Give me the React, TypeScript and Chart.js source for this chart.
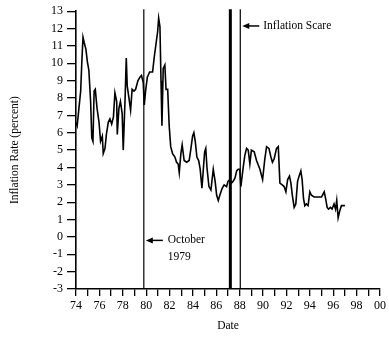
import React, { useEffect, useRef } from "react";
import { Chart, registerables } from "chart.js";

Chart.register(...registerables);

// Inflation rate (percent) by date (decimal year, 74 = 1974)
const dates: number[] = [
  74.0, 74.1, 74.25, 74.4, 74.5, 74.6, 74.7, 74.85, 74.97, 75.1, 75.25, 75.35, 75.45, 75.55, 75.65, 75.8, 75.97,
  76.1, 76.25, 76.33, 76.48, 76.6, 76.76, 76.9, 77.05, 77.2, 77.33, 77.48, 77.53, 77.67, 77.8, 77.95,
  78.04, 78.2, 78.3, 78.38, 78.53, 78.67, 78.8, 78.96, 79.1, 79.3, 79.47, 79.6, 79.75, 79.84, 79.95,
  80.1, 80.3, 80.55, 80.7, 80.84, 80.98, 81.07, 81.18, 81.27, 81.35, 81.46, 81.6, 81.7, 81.84, 81.97,
  82.1, 82.26, 82.46, 82.6, 82.74, 82.83, 82.97, 83.08, 83.25, 83.46, 83.68, 83.83, 83.97,
  84.08, 84.2, 84.34, 84.49, 84.62, 84.77, 84.88, 85.0, 85.1, 85.2, 85.37, 85.54, 85.74, 85.9,
  86.03, 86.17, 86.3, 86.5, 86.67, 86.88, 87.0, 87.16, 87.3, 87.44, 87.6, 87.74, 87.87, 88.0,
  88.1, 88.3, 88.44, 88.59, 88.73, 88.87, 89.0, 89.24, 89.44, 89.73, 89.96,
  90.15, 90.3, 90.5, 90.67, 90.8, 90.95, 91.15, 91.3, 91.44, 91.64, 91.8, 91.95,
  92.1, 92.26, 92.38, 92.52, 92.66, 92.8, 92.95, 93.08, 93.23, 93.34, 93.46, 93.57, 93.7, 93.85,
  94.0, 94.14, 94.37, 94.66, 95.0, 95.23, 95.35, 95.48, 95.6, 95.76, 95.9,
  96.07, 96.2, 96.3, 96.42, 96.56, 96.7, 96.85, 97.0,
];

const inflation: number[] = [
  6.6, 6.4, 7.4, 8.4, 10.1, 11.5, 11.2, 10.8, 10.1, 9.6, 7.8, 5.7, 5.5, 8.4, 8.5, 7.4, 6.6,
  5.5, 5.8, 4.8, 5.1, 5.9, 6.6, 6.8, 6.5, 6.9, 8.3, 7.8, 5.9, 7.4, 7.8, 7.1,
  5.0, 8.0, 10.3, 8.7, 8.0, 7.3, 8.5, 8.4, 8.5, 9.0, 9.2, 9.3, 8.9, 7.6, 8.4,
  9.2, 9.5, 9.5, 10.4, 11.1, 11.8, 12.6, 12.1, 9.0, 6.4, 9.7, 9.9, 8.5, 8.5, 6.4,
  5.2, 4.8, 4.6, 4.3, 4.2, 3.7, 4.8, 5.3, 4.4, 4.3, 4.4, 5.1, 5.8,
  6.0, 5.5, 4.6, 4.4, 3.9, 2.8, 3.8, 4.9, 5.1, 4.0, 2.9, 2.7, 3.9, 3.2,
  2.4, 2.1, 2.4, 2.8, 3.0, 2.9, 3.2, 3.3, 3.1, 3.2, 3.4, 3.8, 3.9, 3.9,
  2.9, 4.0, 4.7, 5.1, 5.0, 4.2, 5.0, 4.9, 4.4, 3.9, 3.3,
  4.5, 5.2, 5.1, 4.6, 4.3, 4.5, 5.1, 5.2, 3.1, 3.0, 2.9, 2.6,
  3.3, 3.5, 3.1, 2.3, 1.7, 1.9, 3.2, 3.5, 3.8, 3.3, 2.2, 1.8, 1.9, 1.8,
  2.6, 2.4, 2.3, 2.3, 2.3, 2.6, 2.2, 1.7, 1.6, 1.7, 1.6,
  1.9, 1.6, 2.1, 1.1, 1.5, 1.8, 1.8, 1.8,
];

// Event markers (decimal year) and the line width used for each
const eventDates: number[] = [79.8, 87.2, 88.05];
const eventWidths: number[] = [1.2, 3, 1.2];

// Annotation text
const octoberLabel: string[] = ["October", "1979"];
const scareLabel = "Inflation Scare";

// Axis ranges and titles
const yMin = -3;
const yMax = 13;
const xMin = 74;
const xMax = 100;
const yTitle = "Inflation Rate (percent)";
const xTitle = "Date";

const SERIF = "'Liberation Serif', 'Times New Roman', serif";

function drawArrowLeft(ctx: CanvasRenderingContext2D, tipX: number, y: number) {
  ctx.save();
  ctx.fillStyle = "#000";
  ctx.strokeStyle = "#000";
  ctx.beginPath();
  ctx.moveTo(tipX, y);
  ctx.lineTo(tipX + 7, y - 3);
  ctx.lineTo(tipX + 7, y + 3);
  ctx.closePath();
  ctx.fill();
  ctx.lineWidth = 1.5;
  ctx.beginPath();
  ctx.moveTo(tipX + 5, y);
  ctx.lineTo(tipX + 17, y);
  ctx.stroke();
  ctx.restore();
}

const eventsPlugin = {
  id: "eventLines",
  afterDatasetsDraw(chart: any) {
    const { ctx, chartArea, scales } = chart;
    const xs = scales.x;
    const ys = scales.y;
    ctx.save();
    ctx.strokeStyle = "#000";
    eventDates.forEach((d, i) => {
      const px = xs.getPixelForValue(d);
      ctx.lineWidth = eventWidths[i];
      ctx.beginPath();
      ctx.moveTo(px, chartArea.top - 2);
      ctx.lineTo(px, chartArea.bottom);
      ctx.stroke();
    });

    ctx.font = `11.5px ${SERIF}`;
    ctx.fillStyle = "#000";
    ctx.textBaseline = "middle";
    ctx.textAlign = "left";

    // October 1979 note
    const octX = xs.getPixelForValue(eventDates[0]);
    const octY = ys.getPixelForValue(-0.2);
    drawArrowLeft(ctx, octX + 2, octY);
    ctx.fillText(octoberLabel[0], octX + 24, octY);
    ctx.fillText(octoberLabel[1], octX + 24, ys.getPixelForValue(-1.17));

    // Inflation scare note
    const scX = xs.getPixelForValue(eventDates[2]);
    const scY = ys.getPixelForValue(12.15);
    drawArrowLeft(ctx, scX + 2, scY);
    ctx.fillText(scareLabel, scX + 23, scY);
    ctx.restore();
  },
};

export default function App() {
  const ref = useRef<HTMLCanvasElement | null>(null);

  useEffect(() => {
    if (!ref.current) return;
    const chart = new Chart(ref.current, {
      type: "line",
      data: {
        datasets: [
          {
            data: dates.map((d, i) => ({ x: d, y: inflation[i] })),
            borderColor: "#000",
            borderWidth: 1.6,
            pointRadius: 0,
            tension: 0,
            fill: false,
          },
        ],
      },
      options: {
        animation: false,
        responsive: false,
        devicePixelRatio: 1,
        layout: { padding: { top: 9, right: 9, left: 0, bottom: 0 } },
        plugins: { legend: { display: false }, tooltip: { enabled: false } },
        scales: {
          x: {
            type: "linear",
            min: xMin,
            max: xMax,
            afterFit: (s: any) => {
              s.height = 48;
            },
            grid: {
              display: true,
              drawOnChartArea: false,
              drawTicks: true,
              tickLength: 7,
              color: "#000",
              lineWidth: 1.3,
            },
            border: { display: true, color: "#000", width: 1.6 },
            ticks: {
              stepSize: 1,
              autoSkip: false,
              maxRotation: 0,
              padding: 3,
              color: "#000",
              font: { family: SERIF, size: 12 },
              callback: (v: any) => {
                const n = Number(v);
                if (n % 2 !== 0) return "";
                const yy = n % 100;
                return yy < 10 ? "0" + yy : String(yy);
              },
            },
            title: {
              display: true,
              text: xTitle,
              color: "#000",
              font: { family: SERIF, size: 11.5 },
              padding: { top: 0, bottom: 4 },
            },
          },
          y: {
            type: "linear",
            min: yMin,
            max: yMax,
            afterFit: (s: any) => {
              s.width = 76;
            },
            grid: {
              display: true,
              drawOnChartArea: false,
              drawTicks: true,
              tickLength: 9,
              color: "#000",
              lineWidth: 1.3,
            },
            border: { display: true, color: "#000", width: 1.6 },
            ticks: {
              stepSize: 1,
              autoSkip: false,
              padding: 4,
              color: "#000",
              font: { family: SERIF, size: 12 },
            },
            title: {
              display: true,
              text: yTitle,
              color: "#000",
              font: { family: SERIF, size: 11.5 },
              padding: { top: 8, bottom: 0 },
            },
          },
        },
      },
      plugins: [eventsPlugin],
    });
    return () => chart.destroy();
  }, []);

  return (
    <div style={{ position: "absolute", left: 0, top: 0, width: 389, height: 337, background: "#fff" }}>
      <canvas ref={ref} width={389} height={337} />
    </div>
  );
}
